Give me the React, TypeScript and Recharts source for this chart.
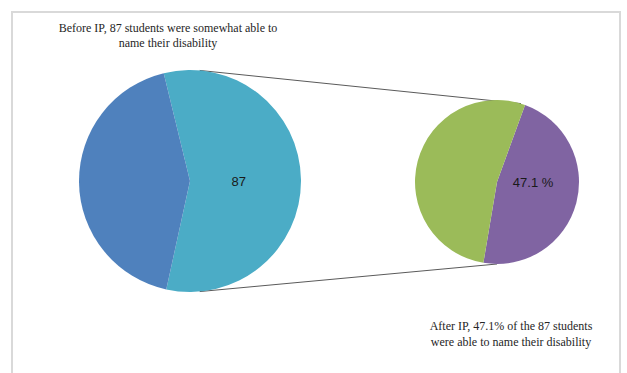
import { Cell, Customized, Pie, PieChart } from "recharts";

// Before IP: students who were somewhat able to name their disability vs the rest
const beforeNames = ["Somewhat able", "Other students"];
const beforeValues = [87, 65];
const beforeColors = ["#4BACC6", "#4F81BD"];

// After IP: share of the 87 students able to name their disability
const afterNames = ["Able", "Not able"];
const afterValues = [47.1, 52.9];
const afterColors = ["#8064A2", "#9BBB59"];

const beforeTitle = ["Before IP, 87 students were somewhat able to", "name their disability"];
const afterTitle = ["After IP, 47.1% of the 87 students", "were able to name their disability"];

const beforeData = beforeNames.map((name, i) => ({ name, value: beforeValues[i] }));
const afterData = afterNames.map((name, i) => ({ name, value: afterValues[i] }));

const W = 627;
const H = 373;
const LEFT = { cx: 190, cy: 181, r: 111, start: 103.7 };
const RIGHT = { cx: 497, cy: 182, r: 82, start: 70 };

// point on a circle, angle measured clockwise from 12 o'clock
const onCircle = (p: { cx: number; cy: number; r: number }, deg: number) => {
  const a = (deg * Math.PI) / 180;
  return { x: p.cx + p.r * Math.sin(a), y: p.cy - p.r * Math.cos(a) };
};

const Decorations = () => {
  const lt = onCircle(LEFT, 5);
  const lb = onCircle(LEFT, 175);
  const rt = onCircle(RIGHT, 17);
  const rb = onCircle(RIGHT, 180);
  const serif = { fontFamily: "'Liberation Serif', serif", fontSize: 12, fill: "#262626" };
  return (
    <g>
      <rect x={12} y={12} width={608} height={420} fill="none" stroke="#d9d9d9" strokeWidth={2} />
      <line x1={lt.x} y1={lt.y} x2={rt.x} y2={rt.y} stroke="#5a5a5a" strokeWidth={1} />
      <line x1={lb.x} y1={lb.y} x2={rb.x} y2={rb.y} stroke="#5a5a5a" strokeWidth={1} />
      {beforeTitle.map((t, i) => (
        <text key={t} x={168} y={32 + i * 15} textAnchor="middle" style={serif}>
          {t}
        </text>
      ))}
      {afterTitle.map((t, i) => (
        <text key={t} x={511} y={330 + i * 16} textAnchor="middle" style={serif}>
          {t}
        </text>
      ))}
    </g>
  );
};

const makeLabel =
  (text: string, showIndex: number) =>
  ({ cx, cy, outerRadius, index }: any) => {
    if (index !== showIndex) return null;
    return (
      <text
        x={cx + outerRadius * 0.44}
        y={cy}
        textAnchor="middle"
        dominantBaseline="central"
        style={{ fontFamily: "'Liberation Sans', sans-serif", fontSize: 13, fill: "#1a1a1a" }}
      >
        {text}
      </text>
    );
  };

export default function App() {
  return (
    <div style={{ width: W, height: H, background: "#fff" }}>
      <style>{`body{margin:0;overflow:hidden}`}</style>
      <PieChart width={W} height={H} margin={{ top: 0, right: 0, bottom: 0, left: 0 }}>
        <Customized component={Decorations} />
        <Pie
          data={beforeData}
          dataKey="value"
          nameKey="name"
          cx={LEFT.cx}
          cy={LEFT.cy}
          outerRadius={LEFT.r}
          startAngle={LEFT.start}
          endAngle={LEFT.start - 360}
          stroke="none"
          labelLine={false}
          label={makeLabel(String(beforeValues[0]), 0)}
          isAnimationActive={false}
        >
          {beforeData.map((d, i) => (
            <Cell key={d.name} fill={beforeColors[i]} />
          ))}
        </Pie>
        <Pie
          data={afterData}
          dataKey="value"
          nameKey="name"
          cx={RIGHT.cx}
          cy={RIGHT.cy}
          outerRadius={RIGHT.r}
          startAngle={RIGHT.start}
          endAngle={RIGHT.start - 360}
          stroke="none"
          labelLine={false}
          label={makeLabel(`${afterValues[0]} %`, 0)}
          isAnimationActive={false}
        >
          {afterData.map((d, i) => (
            <Cell key={d.name} fill={afterColors[i]} />
          ))}
        </Pie>
      </PieChart>
    </div>
  );
}
